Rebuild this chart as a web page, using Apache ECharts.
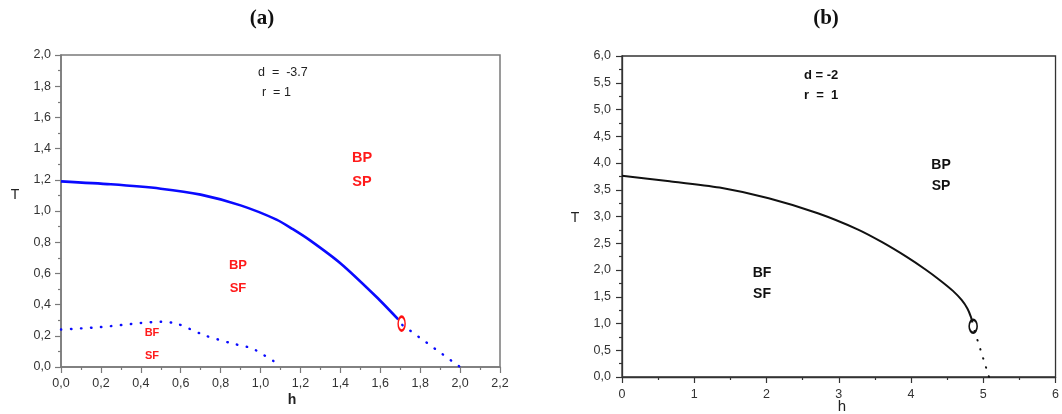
<!DOCTYPE html>
<html>
<head>
<meta charset="utf-8">
<script src="https://cdn.jsdelivr.net/npm/echarts@6/dist/echarts.min.js"></script>
<style>
  html, body { margin: 0; padding: 0; background: #fff; }
  #chart { width: 1062px; height: 414px; }
</style>
</head>
<body>
<div id="chart"></div>
<script>
// Panel (a): d = -3.7, r = 1
const aBoundary = [[0, 1.19], [0.25, 1.171], [0.5, 1.143], [0.7, 1.105], [0.9, 1.036], [1.08, 0.945],
  [1.16, 0.885], [1.25, 0.81], [1.4, 0.665], [1.58, 0.45], [1.69, 0.305]];
const aBoundaryTail = [[1.71, 0.27], [2.0, 0.0]];
const aLower = [[0, 0.24], [0.2, 0.256], [0.4, 0.282], [0.5, 0.29], [0.58, 0.278], [0.72, 0.203],
  [0.86, 0.15], [0.96, 0.118], [1.08, 0.025]];
const aPoint = [[1.707, 0.278]];

// Panel (b): d = -2, r = 1
const bBoundary = [[0, 3.76], [0.66, 3.66], [1.35, 3.54], [2.03, 3.34], [2.71, 3.06], [3.26, 2.76],
  [3.6, 2.52], [3.94, 2.245], [4.2, 2.01], [4.4, 1.81], [4.58, 1.61], [4.7, 1.44], [4.78, 1.28],
  [4.83, 1.12], [4.85, 1.02]];
const bBoundaryTail = [[4.88, 0.86], [5.08, 0.0]];
const bPoint = [[4.86, 0.95]];

const comma = v => v.toFixed(1).replace('.', ',');
const labelFont = { fontFamily: 'Liberation Sans, Arial, sans-serif', fontSize: 12.5, color: '#333' };

function axisCommon(lineColor, lineWidth) {
  return {
    axisLine: { show: true, onZero: false, lineStyle: { color: lineColor, width: lineWidth } },
    axisTick: { show: true, inside: false, length: 6, lineStyle: { color: lineColor, width: 1.2 } },
    minorTick: { show: true, splitNumber: 2, length: 3, lineStyle: { color: lineColor, width: 1.2 } },
    splitLine: { show: false },
    minorSplitLine: { show: false }
  };
}

function centered(txt, cx, cy, size, color, weight, family) {
  return {
    type: 'text', x: cx, y: cy,
    style: {
      text: txt, fill: color, fontSize: size, fontWeight: weight,
      fontFamily: family || 'Liberation Sans, Arial, sans-serif',
      align: 'center', verticalAlign: 'middle'
    }
  };
}

function leftText(txt, x, y, size, color, weight) {
  return {
    type: 'text', x: x, y: y,
    style: {
      text: txt, fill: color, fontSize: size, fontWeight: weight,
      fontFamily: 'Liberation Sans, Arial, sans-serif', verticalAlign: 'middle'
    }
  };
}

const chart = echarts.init(document.getElementById('chart'), null, { renderer: 'canvas' });

const option = {
  animation: false,
  backgroundColor: '#fff',
  grid: [
    { left: 61, top: 55, width: 439, height: 312, show: true, borderColor: '#7a7a7a', borderWidth: 1.5, backgroundColor: 'transparent' },
    { left: 622, top: 56, width: 438, height: 321, show: true, borderColor: '#333', borderWidth: 1.3, backgroundColor: 'transparent' }
  ],
  xAxis: [
    Object.assign({
      type: 'value', gridIndex: 0, min: 0, max: 2.2, interval: 0.2,
      axisLabel: Object.assign({ margin: 10, formatter: comma }, labelFont)
    }, axisCommon('#7a7a7a', 1.5)),
    Object.assign({
      type: 'value', gridIndex: 1, min: 0, max: 6, interval: 1,
      axisLabel: Object.assign({ margin: 11, formatter: v => String(v) }, labelFont)
    }, axisCommon('#333', 1.3))
  ],
  yAxis: [
    Object.assign({
      type: 'value', gridIndex: 0, min: 0, max: 2.0, interval: 0.2,
      axisLabel: Object.assign({ margin: 10, formatter: comma }, labelFont)
    }, axisCommon('#7a7a7a', 1.5)),
    Object.assign({
      type: 'value', gridIndex: 1, min: 0, max: 6, interval: 0.5,
      axisLabel: Object.assign({ margin: 11, formatter: comma }, labelFont)
    }, axisCommon('#333', 1.3))
  ],
  series: [
    {
      type: 'line', xAxisIndex: 0, yAxisIndex: 0, data: aBoundary, smooth: 0.25,
      symbol: 'none', lineStyle: { color: '#0a0aff', width: 2.6 }, z: 3
    },
    {
      type: 'line', xAxisIndex: 0, yAxisIndex: 0, data: aBoundaryTail,
      symbol: 'none', lineStyle: { color: '#0a0aff', width: 2.4, type: [0.5, 9.5], cap: 'round' }
    },
    {
      type: 'line', xAxisIndex: 0, yAxisIndex: 0, data: aLower, smooth: 0.25,
      symbol: 'none', lineStyle: { color: '#0a0aff', width: 2.4, type: [0.5, 9.5], cap: 'round' }
    },
    {
      type: 'scatter', xAxisIndex: 0, yAxisIndex: 0, data: aPoint,
      symbol: 'circle', symbolSize: [7, 14],
      itemStyle: { color: 'rgba(0,0,0,0)', borderColor: '#ff1010', borderWidth: 2, opacity: 1 }, z: 4
    },
    {
      type: 'line', xAxisIndex: 1, yAxisIndex: 1, data: bBoundary, smooth: 0.25,
      symbol: 'none', lineStyle: { color: '#111', width: 2 }, z: 3
    },
    {
      type: 'line', xAxisIndex: 1, yAxisIndex: 1, data: bBoundaryTail,
      symbol: 'none', lineStyle: { color: '#111', width: 2, type: [0.5, 9], cap: 'round' }
    },
    {
      type: 'scatter', xAxisIndex: 1, yAxisIndex: 1, data: bPoint,
      symbol: 'circle', symbolSize: [8, 13],
      itemStyle: { color: 'rgba(0,0,0,0)', borderColor: '#111', borderWidth: 2, opacity: 1 }, z: 4
    }
  ],
  graphic: [
    // panel titles
    centered('(a)', 262, 19, 21, '#111', 'bold', 'Liberation Serif, DejaVu Serif, serif'),
    centered('(b)', 826, 19, 21, '#111', 'bold', 'Liberation Serif, DejaVu Serif, serif'),
    // axis names
    centered('T', 15, 195, 14, '#222', 'normal'),
    centered('h', 292, 400, 14, '#222', 'bold'),
    centered('T', 575, 218, 14, '#222', 'normal'),
    centered('h', 842, 407, 15, '#222', 'normal'),
    // panel (a) annotations
    leftText('d  =  -3.7', 258, 73, 12.5, '#222', 'normal'),
    leftText('r  = 1', 262, 93, 12.5, '#222', 'normal'),
    centered('BP', 362, 158, 14.5, '#ff1a1a', 'bold'),
    centered('SP', 362, 182, 14.5, '#ff1a1a', 'bold'),
    centered('BP', 238, 265, 13, '#ff1a1a', 'bold'),
    centered('SF', 238, 288, 13, '#ff1a1a', 'bold'),
    centered('BF', 152, 333, 11, '#ff1a1a', 'bold'),
    centered('SF', 152, 356, 11, '#ff1a1a', 'bold'),
    // panel (b) annotations
    leftText('d = -2', 804, 75, 13, '#111', 'bold'),
    leftText('r  =  1', 804, 95, 13, '#111', 'bold'),
    centered('BP', 941, 165, 14, '#111', 'bold'),
    centered('SP', 941, 186, 14, '#111', 'bold'),
    centered('BF', 762, 273, 14, '#111', 'bold'),
    centered('SF', 762, 294, 14, '#111', 'bold')
  ]
};

chart.setOption(option);
</script>
</body>
</html>
